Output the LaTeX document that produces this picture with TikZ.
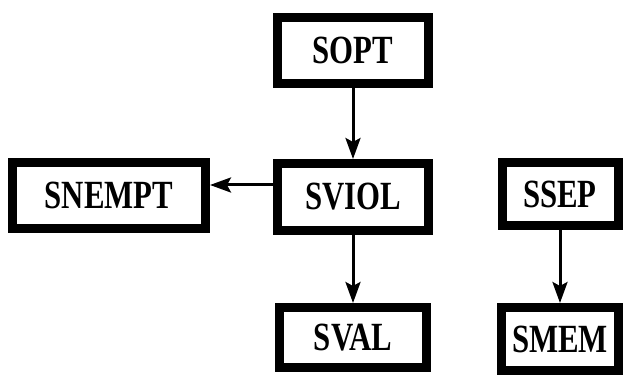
\documentclass[tikz,border=0pt]{standalone}
\usepackage{fontspec}
\newfontfamily\boxfont{Liberation Serif}[FakeStretch=0.77]
\usetikzlibrary{arrows.meta}
\begin{document}
\begin{tikzpicture}[x=1pt,y=1pt,
  bx/.style={draw=black, fill=white, line width=9pt, inner sep=0pt,
     font=\boxfont\bfseries\fontsize{40}{42}\selectfont},
  arr/.style={line width=3pt, -{Stealth[length=21pt,width=15pt,inset=4pt]}}]
\useasboundingbox (0,0) rectangle (625,-377);
\node[bx, minimum width=151pt, minimum height=66pt] (sopt) at (353,-50.5) {SOPT};
\node[bx, minimum width=151pt, minimum height=67pt] (sviol) at (353,-197) {SVIOL};
\node[bx, minimum width=193pt, minimum height=66pt] (snempt) at (109,-195.5) {SNEMPT};
\node[bx, minimum width=116pt, minimum height=63pt] (ssep) at (560,-194) {SSEP};
\node[bx, minimum width=147pt, minimum height=60pt] (sval) at (353,-337.5) {SVAL};
\node[bx, minimum width=117pt, minimum height=63pt] (smem) at (560,-339) {SMEM};
\draw[arr] (sopt) -- (sviol);
\draw[arr] (sviol) -- (sval);
\draw[arr] (ssep) -- (smem);
\draw[arr] ([yshift=12pt]sviol.west) -- ([yshift=10.5pt]snempt.east);
\end{tikzpicture}
\end{document}
